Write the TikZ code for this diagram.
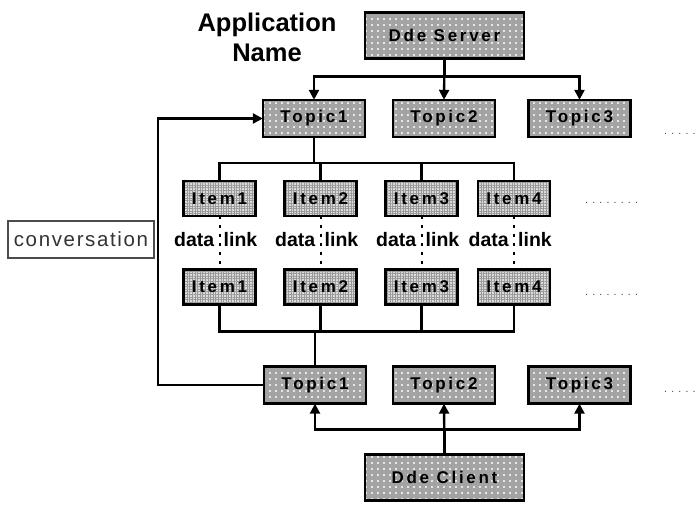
\documentclass[tikz,border=0pt]{standalone}
\usepackage{fontspec}
\setmainfont{Liberation Sans}
\newfontfamily\boxfont[LetterSpace=16]{Liberation Sans}
\newfontfamily\wideregular[LetterSpace=8]{Liberation Sans}
\newfontfamily\dotfont[LetterSpace=40]{Liberation Sans}
\usetikzlibrary{arrows.meta,patterns.meta,calc}
\begin{document}
\begin{tikzpicture}[x=1pt,y=-1pt,
  conn/.style={line width=2.4pt,black},
  arr/.style={conn,-{Triangle[length=10pt,width=10pt]}},
  dotbox/.style={fill=gray!72,
    postaction={pattern={Dots[radius=1.05pt,distance=6pt]},pattern color=white},
    postaction={draw=black,line width=2.4pt},
    inner sep=0pt,font=\boxfont\bfseries\fontsize{17}{19}\selectfont},
  topicbox/.style={dotbox,minimum width=102pt,minimum height=37pt},
  endbox/.style={dotbox,minimum width=159pt,minimum height=46pt},
  itembox/.style={fill=gray!28,
    postaction={pattern={Hatch[distance=2.6pt,line width=0.7pt]},pattern color=gray!80},
    postaction={draw=black,line width=2.4pt},
    inner sep=0pt,minimum width=72pt,minimum height=35pt,
    font=\boxfont\bfseries\fontsize{17}{19}\selectfont},
  linklabel/.style={inner sep=0pt,font=\bfseries\fontsize{19.5}{22}\selectfont},
  dotsline/.style={inner sep=0pt,text=black!75,font=\dotfont\fontsize{10.5}{11}\selectfont},
  datalink/.style={line width=2pt,black,dash pattern=on 3pt off 6pt}
]
\useasboundingbox (0,0) rectangle (699,505);
\fill[white] (0,0) rectangle (699,505);

% title
\node[align=center,inner sep=0pt,font=\bfseries\fontsize{25.5}{30}\selectfont] (app) at (267,37) {Application\\Name};

% server and client
\node[endbox] (srv) at (444.5,35.5) {Dde Server};
\node[endbox] (cli) at (444.5,477.5) {Dde Client};

% upper topics
\node[topicbox] (ta1) at (314,118.5) {Topic1};
\node[topicbox] (ta2) at (444,118.5) {Topic2};
\node[topicbox] (ta3) at (579.5,118.5) {Topic3};

% lower topics
\node[topicbox] (tb1) at (315,385) {Topic1};
\node[topicbox] (tb2) at (444,385) {Topic2};
\node[topicbox] (tb3) at (579.5,385) {Topic3};

% upper items
\node[itembox] (ia1) at (219.5,198.5) {Item1};
\node[itembox] (ia2) at (320.5,198.5) {Item2};
\node[itembox] (ia3) at (421.5,198.5) {Item3};
\node[itembox] (ia4) at (514,198.5) {Item4};

% lower items
\node[itembox] (ib1) at (219.5,287) {Item1};
\node[itembox] (ib2) at (320.5,287) {Item2};
\node[itembox] (ib3) at (421.5,287) {Item3};
\node[itembox] (ib4) at (514,287) {Item4};

% continuation dots
\node[dotsline,anchor=west] (dA) at (664,134) {.....};
\node[dotsline,anchor=west] (dB) at (585,203) {........};
\node[dotsline,anchor=west] (dC) at (585,295) {........};
\node[dotsline,anchor=west] (dD) at (664,392) {.....};

% conversation
\node[draw=black!70,line width=2.2pt,fill=white,text=black!80,
  minimum width=146pt,minimum height=37pt,inner sep=0pt,
  font=\wideregular\fontsize{20.5}{22}\selectfont] (conv) at (81,239.5) {conversation};

% server -> upper topics
\draw[arr] (srv.south) -- ++(0,18) -| (ta1.north);
\draw[arr] (srv.south) -- (ta2.north);
\draw[arr] (srv.south) -- ++(0,18) -| (ta3.north);

% upper topic1 -> items
\foreach \i in {ia1,ia2,ia3,ia4}
  \draw[conn] (ta1.south) -- ++(0,26) -| (\i.north);

% lower items -> lower topic1
\foreach \i in {ib1,ib2,ib3,ib4}
  \draw[conn] (tb1.north) -- ++(0,-35) -| (\i.south);

% client -> lower topics
\draw[arr] (cli.north) -- ++(0,-25) -| (tb1.south);
\draw[arr] (cli.north) -- (tb2.south);
\draw[arr] (cli.north) -- ++(0,-25) -| (tb3.south);

% conversation loop
\coordinate (loop) at (158,250);
\draw[arr] (tb1.west) -| (loop) |- (ta1.west);

% data links
\foreach \n/\x in {1/219.5,2/320.5,3/421.5,4/514}{
  \draw[datalink] (ia\n.south) -- (ib\n.north);
  \node[linklabel,anchor=base east] (dl\n) at (\x-5,247) {data};
  \node[linklabel,anchor=base west] (lk\n) at (\x+4,247) {link};
}
\end{tikzpicture}
\end{document}
